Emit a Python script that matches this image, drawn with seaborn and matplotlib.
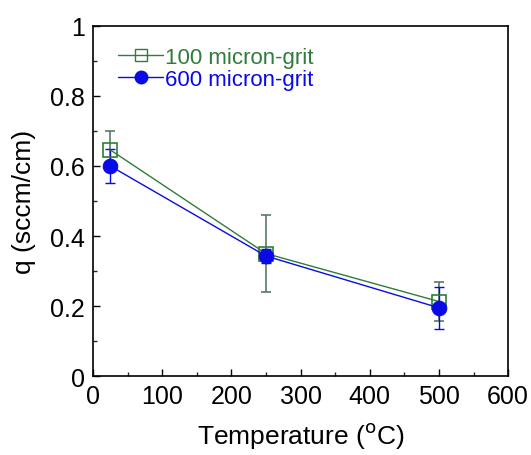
import matplotlib
matplotlib.use("Agg")
import matplotlib.pyplot as plt
import seaborn as sns
import pandas as pd
from matplotlib.ticker import MultipleLocator
from matplotlib.lines import Line2D

sns.set_style("ticks")
plt.rcParams['font.family'] = ['Liberation Sans', 'DejaVu Sans']
plt.rcParams['text.color'] = 'black'
plt.rcParams['axes.labelcolor'] = 'black'

temperature = [25, 250, 500]
q_100 = [0.646, 0.35, 0.213]
err_100 = [0.053, 0.11, 0.055]
q_600 = [0.60, 0.343, 0.195]
err_600 = [0.048, 0.02, 0.06]
labels = ["100 micron-grit", "600 micron-grit"]

green = "#2f7d3a"
green_err = "#5a7a62"
blue = "#0a0ae6"

fig = plt.figure(figsize=(5.31, 4.56), dpi=100)
ax = fig.add_axes([0.175, 0.173, 0.782, 0.768])

df100 = pd.DataFrame({"T": temperature, "q": q_100})
df600 = pd.DataFrame({"T": temperature, "q": q_600})

ax.errorbar(temperature, q_100, yerr=err_100, fmt="none", ecolor=green_err,
            elinewidth=1.2, capsize=3.5, capthick=1.2, zorder=2)
ax.errorbar(temperature, q_600, yerr=err_600, fmt="none", ecolor=blue,
            elinewidth=1.0, capsize=3.5, capthick=1.0, zorder=2)
sns.lineplot(data=df100, x="T", y="q", ax=ax, color=green, lw=1.0,
             marker="s", markersize=10, markerfacecolor="none",
             markeredgecolor=green, markeredgewidth=1.2, zorder=3)
sns.lineplot(data=df600, x="T", y="q", ax=ax, color=blue, lw=1.0,
             marker="o", markersize=10.5, markerfacecolor=blue,
             markeredgecolor=blue, zorder=4)

ax.set_xlim(0, 600)
ax.set_ylim(0, 1)
ax.xaxis.set_major_locator(MultipleLocator(100))
ax.xaxis.set_minor_locator(MultipleLocator(50))
ax.yaxis.set_minor_locator(MultipleLocator(0.1))
ax.set_yticks([0, 0.2, 0.4, 0.6, 0.8, 1.0])
ax.set_yticklabels(["0", "0.2", "0.4", "0.6", "0.8", "1"])
ax.tick_params(which="major", direction="in", length=5, width=1, labelsize=18,
               pad=6, top=False, right=False, colors="black")
ax.tick_params(which="minor", direction="in", length=3, width=1,
               top=False, right=False)
for s in ax.spines.values():
    s.set_linewidth(1.2)
    s.set_color("black")

ax.set_xlabel("Temperature ($^{\\mathrm{o}}$C)", fontsize=19, labelpad=8,
              color="black")
ax.set_ylabel("q (sccm/cm)", fontsize=19, labelpad=10, color="black")

handles = [
    Line2D([], [], color=green, lw=1.0, marker="s", markersize=9,
           markerfacecolor="none", markeredgecolor=green),
    Line2D([], [], color=blue, lw=1.0, marker="o", markersize=9,
           markerfacecolor=blue, markeredgecolor=blue),
]
leg = ax.legend(handles, labels, loc="upper left", bbox_to_anchor=(0.04, 0.965),
                frameon=False, fontsize=16, handlelength=2.0, handletextpad=0.1,
                labelspacing=0.05, borderaxespad=0.0)
for t, c in zip(leg.get_texts(), [green, blue]):
    t.set_color(c)

fig.savefig("out.png", dpi=100)
